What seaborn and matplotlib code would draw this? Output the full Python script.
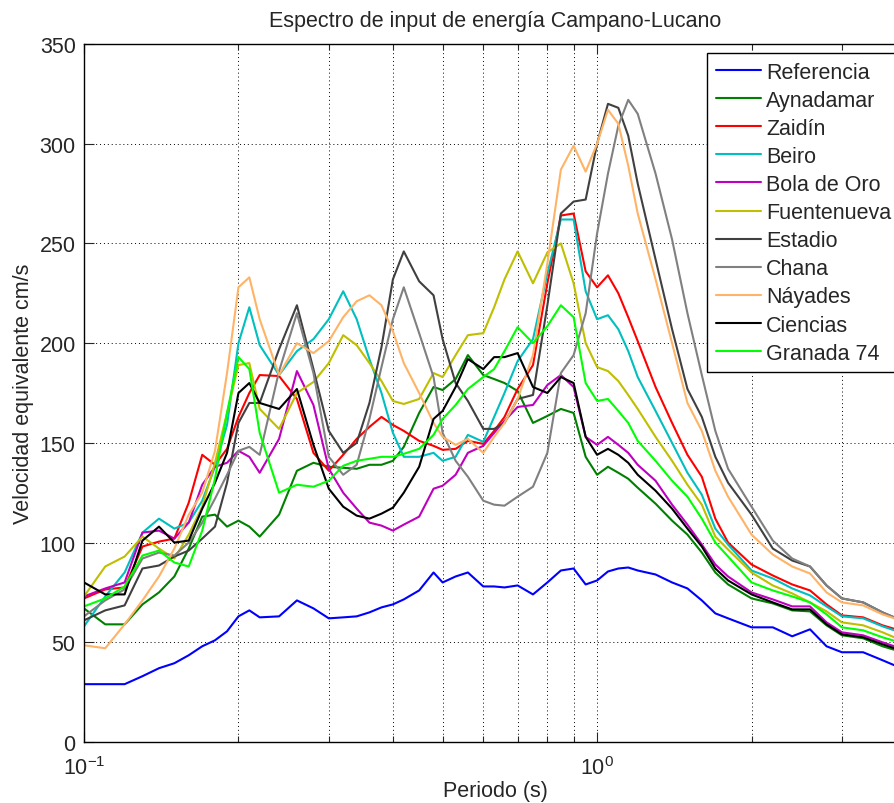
import matplotlib
matplotlib.use("Agg")  # headless rendering
import matplotlib.pyplot as plt
from matplotlib.ticker import NullFormatter
import seaborn as sns

# periodo (s) y velocidad equivalente (cm/s)
PERIODOS = [
    0.10, 0.11, 0.12, 0.13, 0.14, 0.15, 0.16, 0.17, 0.18, 0.19,
    0.20, 0.21, 0.22, 0.24, 0.26, 0.28, 0.30, 0.32, 0.34, 0.36,
    0.38, 0.40, 0.42, 0.45, 0.48, 0.50, 0.53, 0.56, 0.60, 0.63,
    0.66, 0.70, 0.75, 0.80, 0.85, 0.90, 0.95, 1.00, 1.05, 1.10,
    1.15, 1.20, 1.30, 1.40, 1.50, 1.60, 1.70, 1.80, 2.00, 2.20,
    2.40, 2.60, 2.80, 3.00, 3.30, 3.60, 4.00,
]

REFERENCIA = [
    29, 29, 29, 33, 37, 39.5, 43.5, 48, 51, 55.5,
    63, 66, 62.5, 63, 71, 67, 62, 62.5, 63, 65,
    67.5, 69, 71.5, 76, 85, 80, 83, 85, 78, 78,
    77.5, 78.5, 74, 80, 86, 87, 79, 81, 85.5, 87,
    87.5, 86, 84, 80, 77, 71, 64.5, 62, 57.5, 57.5,
    53, 56.5, 48, 45, 45, 41, 36,
]
AYNADAMAR = [
    67, 59, 59, 69, 75, 83, 97, 113, 114, 108,
    111, 108, 103, 114, 136, 140, 138, 137.5, 137, 139,
    139, 141, 148, 165, 178, 176.5, 182, 194, 184, 182,
    180, 176, 160, 163.5, 167, 165, 143, 134, 138, 135,
    132, 127.5, 119.5, 111, 104, 95, 85, 79, 72, 69.5,
    66, 65.5, 58.5, 53.5, 52, 48, 44.5,
]
ZAIDIN = [
    72, 76.5, 77.5, 98, 100.5, 102, 120, 144, 139, 147,
    163, 175, 184, 183.5, 172, 145, 136, 144, 152, 158,
    163, 159, 156, 151, 148.5, 146.5, 147, 151, 149.5, 156,
    163, 177, 189, 230, 264, 265, 236, 228, 234, 225,
    213, 201, 178, 160, 144, 133, 112, 100, 89, 83.5,
    79, 76, 69, 63.5, 62.5, 58.5, 55,
]
BEIRO = [
    58, 73, 85, 105, 112, 107, 110, 121, 138, 159,
    200, 218, 199, 184, 196, 202, 212, 226, 212, 192,
    175, 155, 143, 143, 145, 141, 143, 154, 150.5, 163,
    175, 191, 202, 235, 262, 262, 226, 212, 214, 207,
    196, 183, 166, 150, 135, 124, 107, 99, 86, 82,
    77, 73.5, 68, 63, 62, 58, 54,
]
BOLA_DE_ORO = [
    73, 77, 80, 105, 106, 102, 110, 129, 138, 140,
    146, 143, 135, 152, 186, 169, 137, 125, 117, 110,
    108.5, 106, 109, 113, 127, 128.5, 134, 145, 148.5, 155,
    161, 168, 169, 179, 184, 178, 153, 149, 153, 149,
    145, 139, 131, 119, 109, 99, 89, 83, 75, 71.5,
    68, 68, 60, 55, 53.5, 50, 46,
]
FUENTENUEVA = [
    73, 88, 93, 103, 97, 92, 104, 118, 140, 165,
    189, 190, 167, 157, 175, 180.5, 190, 204, 199, 190,
    181, 171, 169.5, 172, 185, 183, 194, 204, 205, 218,
    232, 246, 230, 245.5, 250, 230, 200, 188, 186, 181,
    174, 167, 153, 141, 129, 119, 103, 96.5, 85, 78.5,
    74.5, 70, 65.5, 60, 58.5, 55, 50,
]
ESTADIO = [
    61, 66, 68.5, 87, 88.5, 93, 96, 102, 108, 130,
    160, 170, 170, 197, 219, 187, 156, 145, 150, 170,
    198, 232, 246, 231, 224, 202, 180, 171, 157, 157,
    160, 172, 174, 219, 265, 271, 272, 300, 320, 318,
    304, 280, 242, 207, 177, 163, 143, 130, 114, 97,
    91, 88, 78.5, 72, 70, 65, 60,
]
CHANA = [
    63, 71, 76.5, 92, 95, 93.5, 100, 110, 122, 134,
    146, 148, 144, 186, 215, 185, 143, 134, 139, 162,
    188, 212, 228, 205, 183, 155, 141, 133, 121, 119,
    118.5, 123, 128, 145, 185, 194, 215, 255, 285, 309,
    322, 315, 285, 252, 215, 184, 156, 137, 118, 101,
    92, 88, 78.5, 72, 70, 65, 60,
]
NAYADES = [
    48.5, 47, 59, 71, 83, 97, 114, 125, 146, 185,
    228, 233, 212, 184, 200, 195, 201, 213, 221, 224,
    219, 206, 190, 175, 160, 153, 149, 152, 145, 153,
    160, 172, 194, 240, 287, 299, 286, 300, 317, 310,
    289, 265, 232, 200, 170, 156, 136, 123, 104, 94,
    88, 84.5, 75, 70, 68.5, 64, 60,
]
CIENCIAS = [
    80, 74, 74, 101, 108, 100, 101, 117, 130, 145,
    175, 180, 170, 167, 177, 149, 127, 118, 113.5, 112,
    114.5, 117.5, 125, 138, 162, 166, 178, 192, 187, 193,
    193, 195, 178, 175, 183, 180, 153, 144, 147, 144,
    140, 134, 126, 117, 107, 98, 87, 81, 74, 70,
    66.5, 66.5, 59, 54, 52.5, 49, 45,
]
GRANADA_74 = [
    68, 72, 78, 93.5, 96, 90, 88, 106, 132, 165,
    193, 187, 155, 125, 129, 128, 131, 138.5, 141, 142,
    143, 143, 144.5, 147, 154, 162, 169, 177, 183, 187,
    196, 208, 200, 208.5, 219, 213, 180, 171, 172, 166,
    160, 151, 141, 131, 123, 112, 100, 93, 80, 76,
    73, 70, 64, 57.5, 56, 52.5, 49,
]

ESTACIONES = ["Referencia", "Aynadamar", "Zaidín", "Beiro", "Bola de Oro",
              "Fuentenueva", "Estadio", "Chana", "Náyades", "Ciencias",
              "Granada 74"]
SERIES = [REFERENCIA, AYNADAMAR, ZAIDIN, BEIRO, BOLA_DE_ORO, FUENTENUEVA,
          ESTADIO, CHANA, NAYADES, CIENCIAS, GRANADA_74]
COLORES = ["#0000ff", "#008000", "#ff0000", "#00bfbf", "#bf00bf", "#bfbf00",
           "#404040", "#808080", "#ffb366", "#000000", "#00ff00"]

FS = 15.5

sns.set_style("ticks")
plt.rcParams["font.family"] = ["Liberation Sans", "DejaVu Sans"]
plt.rcParams["mathtext.default"] = "regular"

fig = plt.figure(figsize=(8.95, 8.04), dpi=100)
# the axes runs a little past the right edge, as in the cropped original
ax = fig.add_axes([84 / 895, 61 / 804, 822 / 895, 698 / 804])

for nombre, valores, color in zip(ESTACIONES, SERIES, COLORES):
    sns.lineplot(x=PERIODOS, y=valores, color=color, label=nombre,
                 linewidth=1.5, ax=ax)

ax.set_xscale("log")
ax.set_xlim(0.1, 4)
ax.set_ylim(0, 350)
ax.set_yticks(range(0, 351, 50))
ax.xaxis.set_minor_formatter(NullFormatter())

ax.set_axisbelow(True)
grid_kw = dict(color="black", linestyle=(0, (1, 3)), linewidth=0.7)
ax.grid(True, which="major", **grid_kw)
ax.grid(True, which="minor", axis="x", **grid_kw)

ax.tick_params(which="both", direction="in", top=True, right=True,
               labelsize=FS, width=0.8)
ax.tick_params(which="major", length=7)
ax.tick_params(axis="y", which="major", pad=6)
ax.tick_params(axis="x", which="major", pad=10)
ax.tick_params(which="minor", length=4)
for spine in ax.spines.values():
    spine.set_color("black")
    spine.set_linewidth(1.0)

ax.set_title("Espectro de input de energía Campano-Lucano", fontsize=FS, pad=13)
ax.set_xlabel("Periodo (s)", fontsize=FS, labelpad=1)
ax.set_ylabel("Velocidad equivalente cm/s", fontsize=FS, labelpad=4)

leg = ax.legend(loc="upper left", bbox_to_anchor=(707 / 895, 1 - 54 / 804),
                bbox_transform=fig.transFigure, borderaxespad=0,
                fontsize=FS, frameon=True, fancybox=False, framealpha=1,
                edgecolor="black", handlelength=2.1, handletextpad=0.25,
                labelspacing=0.33, borderpad=0.4)
leg.get_frame().set_linewidth(1.0)

fig.savefig("out.png", dpi=100)
plt.close(fig)
